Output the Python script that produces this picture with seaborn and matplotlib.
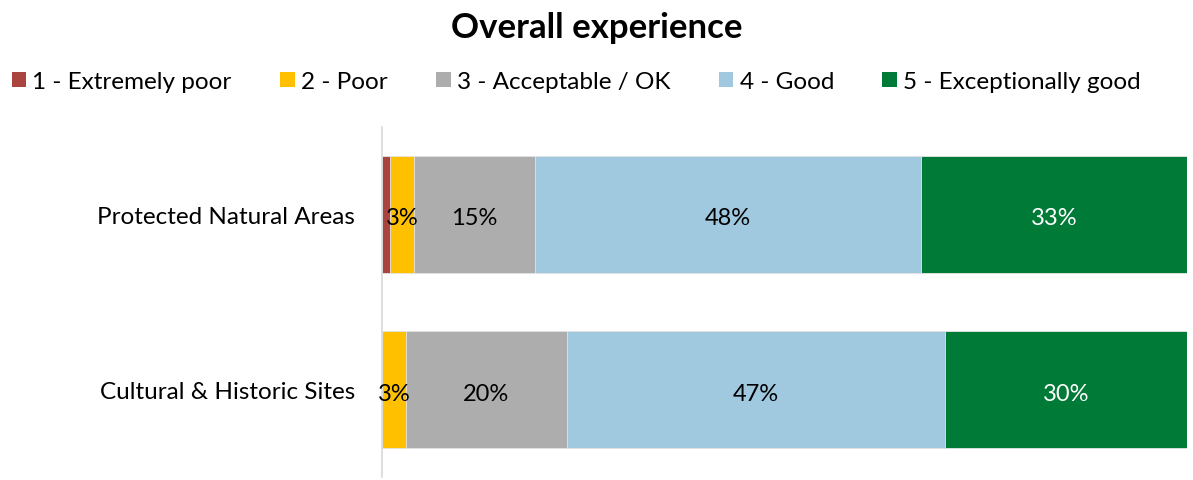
import numpy as np
import pandas as pd
import matplotlib
matplotlib.use("Agg")
import matplotlib.pyplot as plt
from matplotlib.patches import Patch
import seaborn as sns

# data (percent)
categories = ["Protected Natural Areas", "Cultural & Historic Sites"]
ratings = ["1 - Extremely poor", "2 - Poor", "3 - Acceptable / OK",
           "4 - Good", "5 - Exceptionally good"]
extremely_poor = [1, 0]
poor = [3, 3]
acceptable = [15, 20]
good = [48, 47]
exceptional = [33, 30]

colors = ["#A9443F", "#FFC000", "#ADADAD", "#A0C8DF", "#007A37"]
label_colors = ["black", "black", "black", "black", "white"]

sns.set_style("white")
plt.rcParams["font.family"] = ["Lato", "DejaVu Sans"]
plt.rcParams["text.color"] = "black"
plt.rcParams["ytick.color"] = "black"

values = np.array([extremely_poor, poor, acceptable, good, exceptional], dtype=float)
cum = values.cumsum(axis=0)

fig = plt.figure(figsize=(11.93, 4.81), dpi=100)
ax = fig.add_axes([0.320, 0.006, 0.675, 0.728])

# stacked bars: draw the cumulative totals from the largest down so each
# segment shows through
for i in range(len(ratings) - 1, -1, -1):
    df = pd.DataFrame({"category": categories, "value": cum[i]})
    sns.barplot(data=df, x="value", y="category", orient="h", color=colors[i],
                saturation=1, width=0.67, errorbar=None, linewidth=0.6,
                edgecolor="#E6E6E6", ax=ax)

# segment labels (small ones hidden like the original)
for i in range(len(ratings)):
    for j in range(len(categories)):
        v = values[i, j]
        if v < 2:
            continue
        centre = cum[i, j] - v / 2
        ax.text(centre, j + 0.02, f"{v:.0f}%", ha="center", va="center",
                fontsize=17, color=label_colors[i])

ax.set_xlim(0, 100)
ax.set_ylim(1.5, -0.5)
ax.set_xlabel("")
ax.set_ylabel("")
ax.set_xticks([])
ax.tick_params(axis="y", length=0, labelsize=17.5, pad=19)
for s in ["top", "right", "bottom"]:
    ax.spines[s].set_visible(False)
ax.spines["left"].set_color("#D9D9D9")
ax.spines["left"].set_linewidth(1.2)

fig.suptitle("Overall experience", fontsize=25, fontweight="bold", y=0.975)

handles = [Patch(facecolor=c, edgecolor="none") for c in colors]
fig.legend(handles, ratings, loc="center", bbox_to_anchor=(0.483, 0.828),
           ncol=5, frameon=False, fontsize=17.5, handlelength=0.6,
           handleheight=0.6, handletextpad=0.25, columnspacing=2.0)

fig.savefig("out.png", dpi=100)
